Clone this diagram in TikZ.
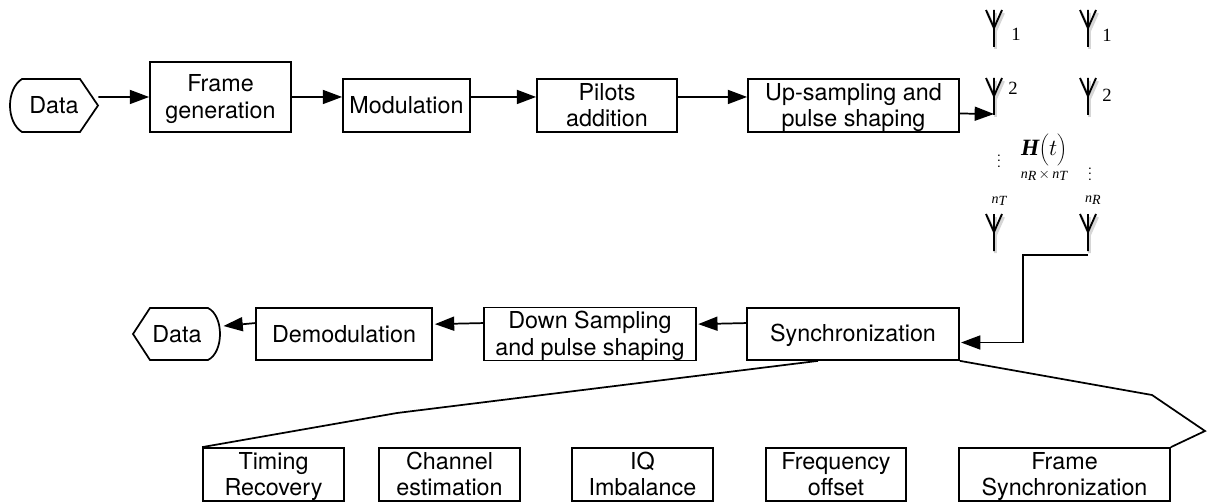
\documentclass[tikz,border=0pt]{standalone}
\usepackage{fontspec}
\setmainfont{TeX Gyre Heros}
\newfontfamily\timesf{Liberation Serif}
\usetikzlibrary{arrows.meta}
\setlength{\normallineskiplimit}{-100pt}
\setlength{\lineskiplimit}{-100pt}
\newcommand{\tl}{\rule[-3.7pt]{0pt}{19.5pt}}
\newcommand{\smallit}[1]{{\fontsize{10.5}{12}\selectfont\timesf\itshape #1}}
\newcommand{\digit}[1]{{\fontsize{14}{16}\selectfont\timesf #1}}
\tikzset{
  wh/.style 2 args={minimum width=#1*0.75pt,minimum height=#2*0.75pt},
  box/.style={draw=black,line width=1.3pt,inner sep=0pt,align=center,font=\fontsize{17.5}{20}\selectfont},
  ghost/.style={inner sep=0pt,align=center,font=\fontsize{17.5}{20}\selectfont},
  flow/.style={draw=black,line width=1.3pt,-{Triangle[length=14.5pt,width=10.5pt]}},
  edge/.style={draw=black,line width=1.3pt,line join=miter},
  ant/.style={draw=black,line width=1.4pt},
  antshadow/.style={draw=black!16,line width=2.2pt},
  lab/.style={inner sep=0pt},
  antenna/.pic={
    \draw[antshadow] (1.5,3) -- (1.5,39) (-6.5,3) -- (1.5,21) -- (9.5,3);
    \draw[ant] (0,0) -- (0,37) (-8,0) -- (0,18) -- (8,0);
  }
}
\begin{document}
\begin{tikzpicture}[x=0.75pt,y=-0.75pt]
\useasboundingbox (0,0) rectangle (1207,503);
% top row
\node[ghost,wh={88}{53}] (datain) at (54,105.5) {\tl Data};
\draw[edge] (22,79) -- (80,79) -- (98,105.5) -- (80,132) -- (22,132)
  .. controls (6,122) and (6,89) .. (22,79) -- cycle;
\node[box,wh={141}{70}] (frame) at (220.5,97) {\tl Frame\\\tl generation};
\node[box,wh={127}{53}] (mod) at (406.5,105.5) {\tl Modulation};
\node[box,wh={140}{53}] (pilots) at (607,105.5) {\tl Pilots\\\tl addition};
\node[box,wh={211}{53}] (up) at (853.5,105.5) {\tl Up-sampling and\\\tl pulse shaping};
% middle row
\node[box,wh={212}{52}] (sync) at (853,334) {\tl Synchronization};
\node[box,wh={212}{52}] (down) at (590,334) {\tl Down Sampling\\\tl and pulse shaping};
\node[box,wh={176}{52}] (demod) at (344,334) {\tl Demodulation};
\node[ghost,wh={87}{52}] (dataout) at (177,334) {\tl Data};
\draw[edge] (208,308) -- (150,308) -- (133,334) -- (150,360) -- (208,360)
  .. controls (224,352) and (224,316) .. (208,308) -- cycle;
% bottom row
\node[box,wh={141}{53}] (timing) at (273.5,474.5) {\tl Timing\\\tl Recovery};
\node[box,wh={141}{53}] (channel) at (449.5,474.5) {\tl Channel\\\tl estimation};
\node[box,wh={141}{53}] (iq) at (642.5,474.5) {\tl IQ\\\tl Imbalance};
\node[box,wh={140}{53}] (freq) at (836,474.5) {\tl Frequency\\\tl offset};
\node[box,wh={211}{53}] (fsync) at (1064.5,474.5) {\tl Frame\\\tl Synchronization};
% antennas
\pic at (994,10) {antenna};
\pic at (1088,10) {antenna};
\pic at (994,78) {antenna};
\pic at (1088,78) {antenna};
\pic at (994,214) {antenna};
\pic at (1088,214) {antenna};
\coordinate (txfeed) at (994,114);
\coordinate (rxfeed) at (1088,255);
\coordinate (bendA) at (1023,255);
\coordinate (bendB) at (1023,342.5);
\coordinate (syncin) at (961,342.5);
\coordinate (l1) at (397,413);
\coordinate (r1) at (1152,395);
\coordinate (r2) at (1205,431);
% labels
\node[lab] (t1) at (1016,34) {\digit{1}};
\node[lab] (r1l) at (1107,35) {\digit{1}};
\node[lab] (t2) at (1013,88.5) {\digit{2}};
\node[lab] (r2l) at (1107,95) {\digit{2}};
\node[lab] (hmat) at (1044,149.5) {\fontsize{17.5}{18}\selectfont{\timesf\bfseries\itshape H}$\left(\vrule height 14pt depth 6pt width 0pt\relax t\right)$};
\node[lab] (hdim) at (1044,175) {\smallit{n\raisebox{-1.5pt}{R}}\,{\fontsize{10.5}{12}\selectfont\timesf$\times$}\,\smallit{n\raisebox{-1.5pt}{T}}};
\node[lab] (tdots) at (999,157) {\fontsize{10}{12}\selectfont$\vdots$};
\node[lab] (rdots) at (1090,170) {\fontsize{10}{12}\selectfont$\vdots$};
\node[lab] (nt) at (999,201) {\smallit{n\raisebox{-1.5pt}{T}}};
\node[lab] (nr) at (1093,200) {\smallit{n\raisebox{-1.5pt}{R}}};
% connectors
\draw[flow] ([yshift=6.4pt]datain.east) -- (frame.west);
\draw[flow] (frame.east) -- ([yshift=6.4pt]mod.west);
\draw[flow] ([yshift=6.4pt]mod.east) -- ([yshift=6.4pt]pilots.west);
\draw[flow] ([yshift=6.4pt]pilots.east) -- ([yshift=6.4pt]up.west);
\draw[flow] ([yshift=-6pt]up.east) -- (txfeed);
\draw[edge,-{Triangle[length=14.5pt,width=10.5pt]}] (rxfeed) -- (bendA) -- (bendB) -- (syncin);
\draw[flow] ([yshift=8.2pt]sync.west) -- ([xshift=1pt,yshift=7.4pt]down.east);
\draw[flow] ([yshift=8.2pt]down.west) -- ([xshift=1.5pt,yshift=7.4pt]demod.east);
\draw[flow] ([yshift=8.2pt]demod.west) -- ([xshift=2pt,yshift=6pt]dataout.east);
\draw[edge] ([xshift=-26.25pt]sync.south) -- (l1) -- (timing.north west);
\draw[edge] (sync.south east) -- (r1) -- (r2) -- (fsync.north east);
\end{tikzpicture}
\end{document}
